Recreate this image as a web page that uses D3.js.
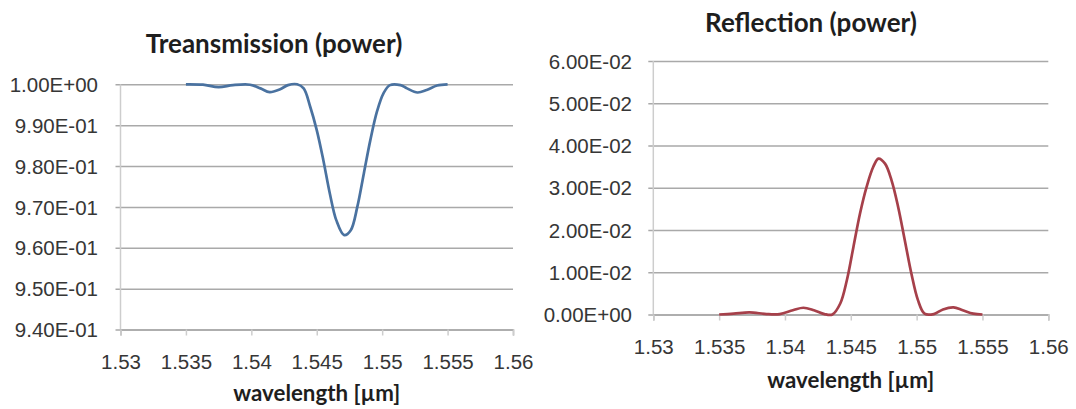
<!DOCTYPE html>
<html>
<head>
<meta charset="utf-8">
<script src="https://cdn.jsdelivr.net/npm/d3@7/dist/d3.min.js"></script>
<style>
  html, body { margin: 0; padding: 0; background: #fff; }
  svg { display: block; font-family: Lato, "Open Sans", sans-serif; }
</style>
</head>
<body>
<svg id="chart" width="1076" height="409"></svg>
<script>
// Transmitted power across the grating stop band
const transWavelength = [1.5350, 1.5363, 1.5375, 1.5386, 1.5399, 1.5407, 1.5414, 1.5422, 1.5428, 1.5435,
                         1.5440, 1.5445, 1.5450, 1.5455, 1.5460, 1.5465, 1.5471, 1.5476, 1.5481, 1.5486,
                         1.5491, 1.5496, 1.5501, 1.5506, 1.5514, 1.5519, 1.5527, 1.5534, 1.5542, 1.5550];
const transPower = [1.0000, 0.9999, 0.9993, 0.9998, 0.9999, 0.9990, 0.9981, 0.9988, 0.9998, 1.0000,
                    0.9990, 0.9945, 0.9888, 0.9815, 0.9733, 0.9667, 0.9631, 0.9643, 0.9700, 0.9782,
                    0.9864, 0.9933, 0.9978, 0.9998, 0.9998, 0.9990, 0.9980, 0.9986, 0.9997, 1.0000];

// Reflected power across the same band
const reflWavelength = [1.5350, 1.5361, 1.5373, 1.5386, 1.5396, 1.5406, 1.5414, 1.5422, 1.5430, 1.5436,
                        1.5442, 1.5447, 1.5452, 1.5457, 1.5462, 1.5467, 1.5471, 1.5476, 1.5481, 1.5486,
                        1.5491, 1.5496, 1.5501, 1.5506, 1.5513, 1.5520, 1.5528, 1.5535, 1.5543, 1.5550];
const reflPower = [0.0000, 0.0002, 0.0005, 0.0001, 0.0001, 0.0010, 0.0016, 0.0010, 0.0001, 0.0000,
                   0.0026, 0.0081, 0.0160, 0.0239, 0.0302, 0.0349, 0.0369, 0.0357, 0.0317, 0.0254,
                   0.0176, 0.0097, 0.0034, 0.0002, 0.0001, 0.0012, 0.0017, 0.0010, 0.0002, 0.0000];

// Axis ticks
const xTicks = [1.53, 1.535, 1.54, 1.545, 1.55, 1.555, 1.56];
const transTicks = [0.94, 0.95, 0.96, 0.97, 0.98, 0.99, 1.00];
const reflTicks = [0.00, 0.01, 0.02, 0.03, 0.04, 0.05, 0.06];

const titles = ["Treansmission (power)", "Reflection (power)"];
const xTitle = "wavelength [\u00b5m]";

// Spreadsheet-style scientific notation, e.g. 9.40E-01
function sci(v) {
  const [m, e] = v.toExponential(2).split("e");
  const n = Math.abs(+e);
  return m + "E" + (+e < 0 ? "-" : "+") + (n < 10 ? "0" + n : n);
}
function fixed(v) { return String(+v.toFixed(3)); }

const svg = d3.select("#chart");
const GRID = "#a9a9a9";
const AXIS = "#cdcdcd";
const TEXT = "#363636";
const TICK_FONT = 20.5;

function panel(cfg) {
  const x = d3.scaleLinear().domain([xTicks[0], xTicks[xTicks.length - 1]]).range(cfg.xRange);
  const y = d3.scaleLinear().domain([cfg.yTicks[0], cfg.yTicks[cfg.yTicks.length - 1]]).range(cfg.yRange);
  const [x0, x1] = cfg.xRange;
  const [yb, yt] = cfg.yRange;
  const g = svg.append("g");

  // horizontal gridlines, with the y tick marks poking out left of the axis
  const yAxis = g.append("g")
    .attr("transform", `translate(${x1},0)`)
    .call(d3.axisLeft(y).tickValues(cfg.yTicks).tickFormat(sci)
      .tickSize(x1 - x0 + 5).tickSizeOuter(0).tickPadding(cfg.yPad));
  yAxis.select(".domain").remove();
  yAxis.selectAll(".tick line").attr("stroke", GRID).attr("stroke-width", 1.5);
  yAxis.selectAll(".tick text")
    .attr("fill", TEXT).attr("font-size", TICK_FONT).attr("dy", "0.35em");

  // vertical axis line
  g.append("line")
    .attr("x1", x0).attr("x2", x0).attr("y1", yt).attr("y2", yb)
    .attr("stroke", AXIS).attr("stroke-width", 1.5);

  // horizontal axis with outward ticks
  const xAxis = g.append("g")
    .attr("transform", `translate(0,${yb})`)
    .call(d3.axisBottom(x).tickValues(xTicks).tickFormat(fixed).tickSize(6).tickSizeOuter(6));
  xAxis.select(".domain").attr("stroke", GRID).attr("stroke-width", 1.5);
  xAxis.selectAll(".tick line").attr("stroke", AXIS).attr("stroke-width", 1.5);
  xAxis.selectAll(".tick text")
    .attr("fill", TEXT).attr("font-size", TICK_FONT).attr("y", 39).attr("dy", 0);

  // series curve
  const pts = cfg.xs.map((v, i) => [v, cfg.ys[i]]);
  g.append("path")
    .datum(pts)
    .attr("fill", "none")
    .attr("stroke", cfg.color)
    .attr("stroke-width", 2.7)
    .attr("stroke-linejoin", "round")
    .attr("d", d3.line().x(d => x(d[0])).y(d => y(d[1])).curve(d3.curveCatmullRom.alpha(0.5)));

  // chart title
  g.append("text")
    .attr("x", cfg.titleX).attr("y", cfg.titleY)
    .attr("text-anchor", "middle")
    .attr("font-size", 26).attr("font-weight", "bold").attr("fill", "#1e1e1e")
    .text(cfg.title);

  // axis title
  g.append("text")
    .attr("x", (x0 + x1) / 2).attr("y", yb + cfg.xTitleOff)
    .attr("text-anchor", "middle")
    .attr("font-size", 22.3).attr("font-weight", "bold").attr("fill", "#1e1e1e")
    .text(xTitle);
}

panel({
  xs: transWavelength, ys: transPower, yTicks: transTicks,
  xRange: [120.5, 513], yRange: [329.5, 84.3], yPad: 17.5,
  color: "#4a72a0", title: titles[0], titleX: 274, titleY: 53, xTitleOff: 71.5
});

panel({
  xs: reflWavelength, ys: reflPower, yTicks: reflTicks,
  xRange: [653.3, 1048.3], yRange: [314.5, 61], yPad: 16.3,
  color: "#a6404a", title: titles[1], titleX: 811, titleY: 32, xTitleOff: 73
});
</script>
</body>
</html>
